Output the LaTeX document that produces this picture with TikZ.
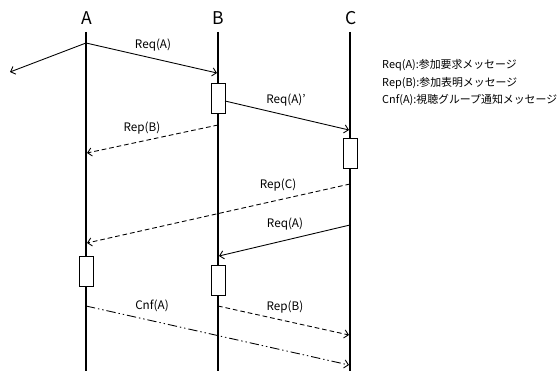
\documentclass[tikz,border=0pt]{standalone}
\usepackage{fontspec}
\setmainfont{Noto Sans CJK JP}
\usetikzlibrary{arrows.meta}

\tikzset{
  lifeline/.style={line width=1pt},
  msg/.style={line width=0.75pt, -{Straight Barb[length=3.5pt,width=7pt]}},
  dashmsg/.style={msg, dash pattern=on 4pt off 2.5pt},
  actbox/.style={draw, line width=0.8pt, fill=white, inner sep=0pt,
                 minimum width=4.2mm, minimum height=9mm},
  msglabel/.style={font=\fontsize{10}{12}\selectfont},
  partlabel/.style={font=\fontsize{15}{17}\selectfont},
  legend/.style={anchor=west, font=\fontsize{9.3}{11}\selectfont, inner sep=0pt},
}

\begin{document}
\begin{tikzpicture}[x=0.3mm, y=-0.3mm]
    \useasboundingbox (0,0) rectangle (560,371);

    % Participants
    \node[partlabel] (A) at (87,18) {A};
    \node[partlabel] (B) at (218,18) {B};
    \node[partlabel] (C) at (351,18) {C};

    % Lifelines
    \coordinate (Atop) at (86,32);  \coordinate (Abot) at (86,371);
    \coordinate (Btop) at (218,32); \coordinate (Bbot) at (218,371);
    \coordinate (Ctop) at (350,32); \coordinate (Cbot) at (350,371);
    \draw[lifeline] (Atop) -- (Abot);
    \draw[lifeline] (Btop) -- (Bbot);
    \draw[lifeline] (Ctop) -- (Cbot);

    % Processing boxes
    \node[actbox] (boxB1) at (218,98) {};
    \node[actbox] (boxC1) at (350,153) {};
    \node[actbox] (boxA1) at (86,271) {};
    \node[actbox] (boxB2) at (218,280) {};

    % Req(A) from A
    \coordinate (a1) at (86,43);
    \coordinate (b1) at (217,73);
    \coordinate (out1) at (10,72);
    \draw[msg] (a1) -- (b1);
    \draw[msg] (a1) -- (out1);
    \node[msglabel] (lreq1) at (153,45) {Req(A)};

    % Req(A)' from B
    \coordinate (b2) at (225,101);
    \coordinate (c2) at (349,130);
    \draw[msg] (b2) -- (c2);
    \node[msglabel] (lreq2) at (286,100) {Req(A)’};

    % Rep(B) to A
    \coordinate (b3) at (218,125);
    \coordinate (a3) at (87,153);
    \draw[dashmsg] (b3) -- (a3);
    \node[msglabel] (lrep1) at (142,128) {Rep(B)};

    % Rep(C) to A
    \coordinate (c4) at (350,184);
    \coordinate (a4) at (87,243);
    \draw[dashmsg] (c4) -- (a4);
    \node[msglabel] (lrep2) at (278,185) {Rep(C)};

    % Req(A) from C
    \coordinate (c5) at (350,225);
    \coordinate (b5) at (219,256);
    \draw[msg] (c5) -- (b5);
    \node[msglabel] (lreq3) at (285,224) {Req(A)};

    % Cnf(A) and Rep(B) to C
    \coordinate (a6) at (86,306);
    \coordinate (c6) at (349,365);
    \draw[msg, dash pattern=on 8pt off 2.5pt on 1.2pt off 2.5pt on 1.2pt off 2.5pt] (a6) -- (c6);
    \node[msglabel] (lcnf) at (152,306) {Cnf(A)};

    \coordinate (b7) at (218,306);
    \coordinate (c7) at (349,335);
    \draw[dashmsg] (b7) -- (c7);
    \node[msglabel] (lrep3) at (285,307) {Rep(B)};

    % Legend
    \node[legend] (leg1) at (382,65) {Req(A):参加要求メッセージ};
    \node[legend] (leg2) at (382,83) {Rep(B):参加表明メッセージ};
    \node[legend] (leg3) at (382,100) {Cnf(A):視聴グループ通知メッセージ};

\end{tikzpicture}
\end{document}
